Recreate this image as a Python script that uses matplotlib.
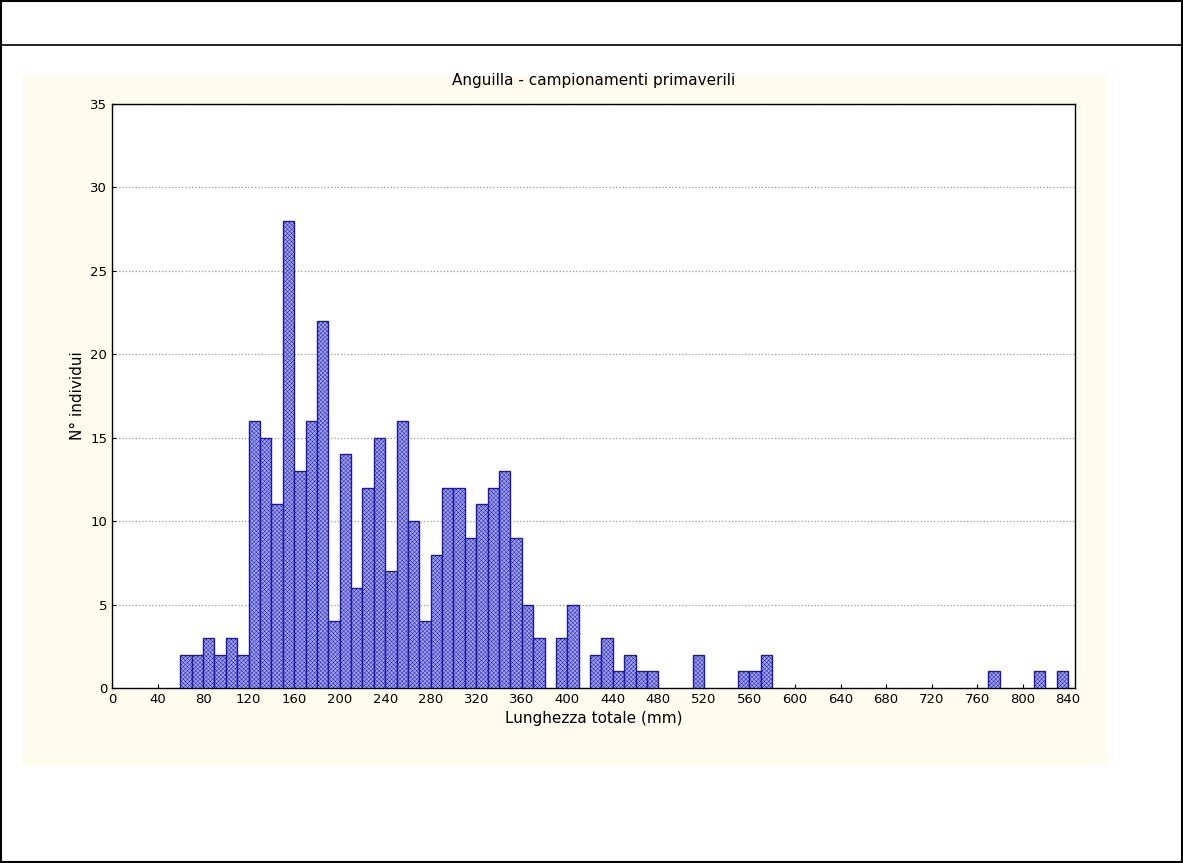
import numpy as np
import matplotlib.pyplot as plt
from matplotlib.patches import Rectangle

# bin left edges (mm), 10 mm bins, and counts
bin_left = [60, 70, 80, 90, 100, 110, 120, 130, 140, 150, 160, 170, 180, 190,
            200, 210, 220, 230, 240, 250, 260, 270, 280, 290, 300, 310, 320,
            330, 340, 350, 360, 370, 390, 400, 420, 430, 440, 450, 460, 470,
            510, 550, 560, 570, 770, 810, 830]
counts = [2, 2, 3, 2, 3, 2, 16, 15, 11, 28, 13, 16, 22, 4,
          14, 6, 12, 15, 7, 16, 10, 4, 8, 12, 12, 9, 11,
          12, 13, 9, 5, 3, 3, 5, 2, 3, 1, 2, 1, 1,
          2, 1, 1, 2, 1, 1, 1]
xticks = list(range(0, 841, 40))
yticks = list(range(0, 36, 5))

W, H = 1183, 863
fig = plt.figure(figsize=(W / 100, H / 100), dpi=100)
fig.patch.set_facecolor('white')

# outer frame and top separator
fig.add_artist(Rectangle((1 / W, 1 / H), (W - 2) / W, (H - 2) / H, transform=fig.transFigure,
                         fill=False, edgecolor='black', lw=1.5))
fig.add_artist(plt.Line2D([0, 1], [1 - 45 / H, 1 - 45 / H], transform=fig.transFigure,
                          color='black', lw=1.2))
# cream panel
fig.add_artist(Rectangle((22 / W, 1 - 765 / H), (1108 - 22) / W, (765 - 75) / H,
                         transform=fig.transFigure, facecolor='#fffbee', edgecolor='none', zorder=0))

ax = fig.add_axes([112 / W, 1 - 688 / H, (1075 - 112) / W, (688 - 104) / H])
ax.set_facecolor('white')
plt.rcParams['hatch.color'] = '#5555cc'
plt.rcParams['hatch.linewidth'] = 0.3
ax.bar(bin_left, counts, width=10, align='edge', facecolor='#a0a0f0',
       edgecolor='#1a1aa0', lw=1.0, hatch='xxxxxxxx', zorder=3)

ax.set_xlim(0, 846)
ax.set_ylim(0, 35)
ax.set_xticks(xticks)
ax.set_yticks(yticks)
ax.tick_params(labelsize=9.5, direction='in', length=3)
ax.yaxis.grid(True, linestyle=':', color='#999999', lw=0.9, zorder=0)
for s in ax.spines.values():
    s.set_linewidth(1.0)

ax.set_title('Anguilla - campionamenti primaverili', fontsize=11, pad=14)
ax.set_xlabel('Lunghezza totale (mm)', fontsize=11)
ax.set_ylabel('N° individui', fontsize=11)

fig.savefig('out.png', dpi=100)
